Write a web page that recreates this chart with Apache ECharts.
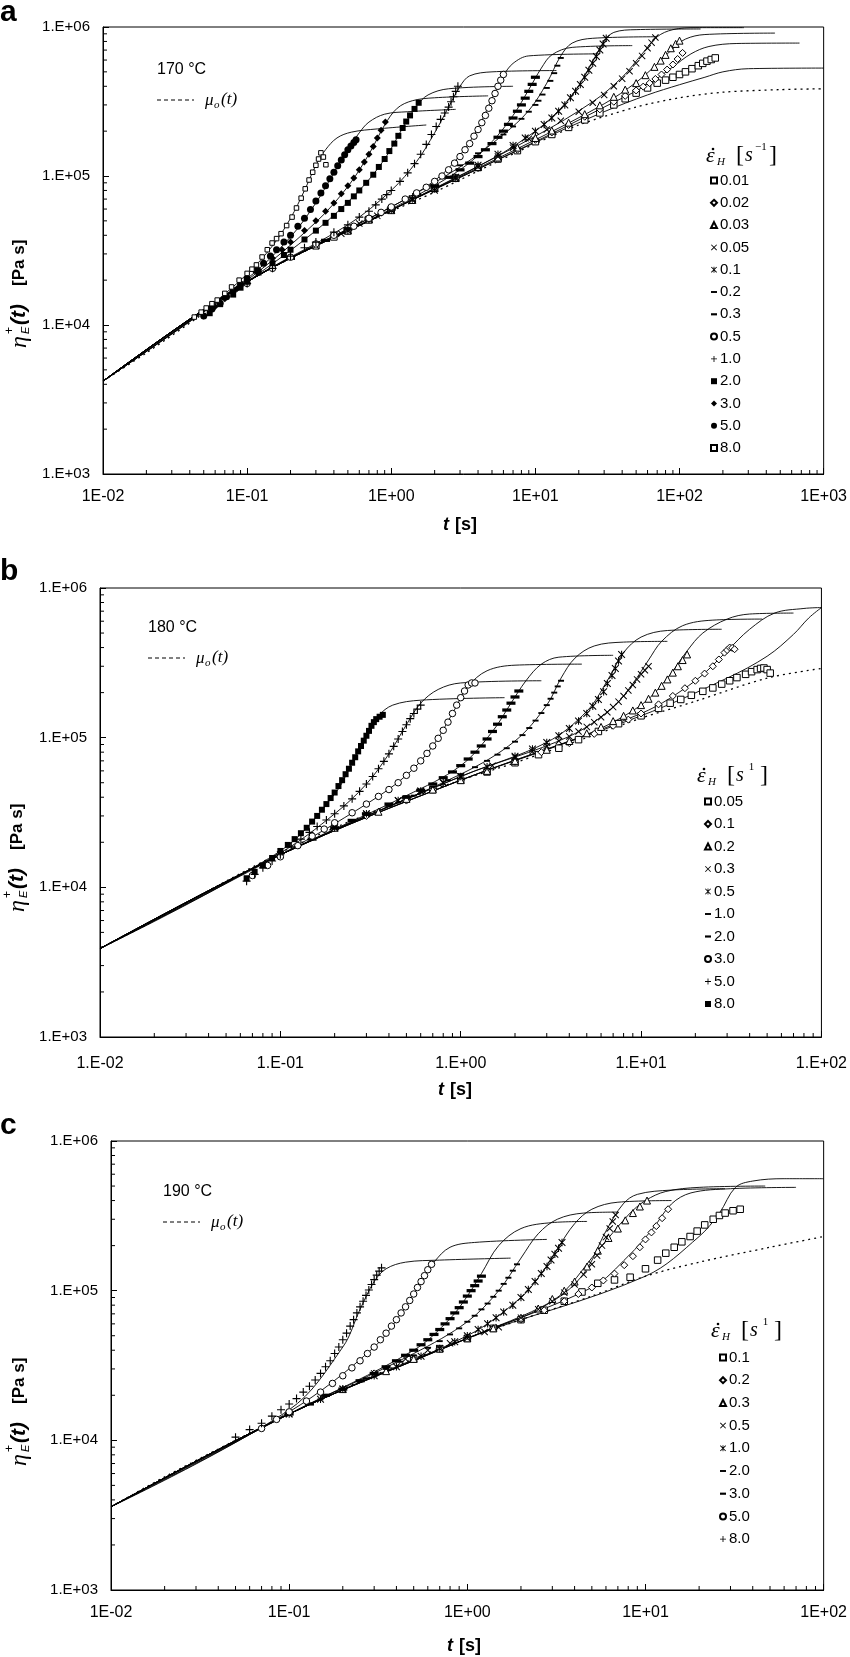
<!DOCTYPE html>
<html><head><meta charset="utf-8">
<script src="https://cdn.jsdelivr.net/npm/echarts@6/dist/echarts.min.js"></script>
<style>html,body{margin:0;padding:0;background:#fff}#c{width:850px;height:1657px}</style>
</head><body><div id="c"></div>
<script>
// ---------- tick labels ----------
const A_XTICKS = ['1E-02','1E-01','1E+00','1E+01','1E+02','1E+03'];
const B_XTICKS = ['1.E-02','1.E-01','1.E+00','1.E+01','1.E+02'];
const C_XTICKS = ['1E-02','1E-01','1E+00','1E+01','1E+02'];
const Y_TICKS = ['1.E+03','1.E+04','1.E+05','1.E+06'];

// ---------- panel a : 170 °C ----------
const A_RATES = ['0.01','0.02','0.03','0.05','0.1','0.2','0.3','0.5','1.0','2.0','3.0','5.0','8.0'];
const A_LVE = [[0.01,4200],[0.02,6500],[0.05,12000],[0.1,19500],[0.2,28000],[0.5,43000],[1,58000],[2,78000],[5,120000],[10,165000],[20,220000],[50,290000],[100,335000],[200,365000],[500,380000],[1000,385000]];
const A_EXP_0_01 = [[0.3,34000],[0.4,39000],[0.5,43000],[0.7,51000],[1,60000],[1.4,70000],[2,83000],[2.8,97000],[4,114000],[5.5,130000],[7.5,148000],[10,170000],[13,190000],[17,212000],[22,238000],[28,265000],[35,300000],[42,330000],[50,360000],[60,390000],[70,420000],[80,440000],[90,460000],[100,480000],[110,500000],[122,525000],[135,550000],[145,570000],[155,590000],[166,605000],[177,620000]];
const A_MOD_0_01 = [[0.01,4200],[0.1,19500],[1,59000],[10,168000],[30,270000],[60,350000],[100,410000],[150,460000],[200,500000],[300,525000],[1000,530000]];
const A_EXP_0_02 = [[0.5,43000],[0.7,51000],[1,59000],[1.4,69000],[2,82000],[2.8,96000],[4,113000],[5.5,130000],[7.5,150000],[10,175000],[13,196000],[17,220000],[22,250000],[28,280000],[35,315000],[42,345000],[50,375000],[56,398000],[62,420000],[68,448000],[75,480000],[82,518000],[90,560000],[97,610000],[105,670000]];
const A_MOD_0_02 = [[0.01,4200],[0.1,19500],[1,59000],[10,170000],[30,290000],[60,410000],[90,540000],[120,660000],[160,740000],[250,775000],[680,780000]];
const A_EXP_0_03 = [[0.5,43000],[0.7,51000],[1,59000],[1.4,69000],[2,83000],[2.8,97000],[4,115000],[5.5,133000],[7.5,155000],[10,180000],[13,202000],[17,228000],[22,260000],[28,298000],[35,340000],[42,380000],[50,420000],[58,475000],[67,540000],[74,595000],[80,650000],[87,720000],[94,770000],[100,810000]];
const A_MOD_0_03 = [[0.01,4200],[0.1,19500],[1,59000],[10,175000],[30,305000],[50,425000],[70,565000],[90,715000],[110,830000],[150,890000],[460,910000]];
const A_EXP_0_05 = [[0.3,34000],[0.45,41000],[0.6,48000],[0.8,54000],[1,59000],[1.4,69000],[2,80000],[2.8,96000],[4,115000],[5.5,135000],[7,155000],[9,178000],[12,205000],[15,235000],[20,270000],[25,310000],[30,350000],[35,400000],[40,450000],[45,505000],[50,570000],[55,640000],[60,720000],[64,785000],[68,850000]];
const A_MOD_0_05 = [[0.01,4200],[0.1,19500],[1,59000],[10,185000],[25,315000],[40,460000],[55,660000],[70,860000],[90,960000],[130,990000],[280,990000]];
const A_EXP_0_1 = [[0.5,43000],[0.7,51000],[1,59000],[1.4,70000],[2,82000],[2.8,98000],[4,118000],[5.5,140000],[7,160000],[8.5,180000],[10,200000],[11.5,222000],[13,245000],[14.5,272000],[16,300000],[17.5,335000],[19,370000],[20.5,412000],[22,460000],[23.5,512000],[25,570000],[26.5,635000],[28,700000],[29.5,770000],[31,840000]];
const A_MOD_0_1 = [[0.01,4200],[0.1,19500],[1,59000],[5,130000],[10,200000],[15,285000],[20,405000],[25,590000],[30,800000],[35,920000],[50,960000],[140,970000]];
const A_EXP_0_2 = [[0.3,35000],[0.5,44000],[0.7,52000],[1,61000],[1.5,78000],[2,92000],[3,118000],[4,142000],[5,165000],[6,190000],[7,215000],[8,242000],[9,270000],[10,300000],[10.5,320000],[11.2,352000],[12,390000],[12.7,435000],[13.5,490000],[14.2,550000],[15,620000]];
const A_MOD_0_2 = [[0.01,4200],[0.1,19500],[1,62000],[3,115000],[6,190000],[9,275000],[12,420000],[15,640000],[18,780000],[25,840000],[70,860000]];
const A_EXP_0_3 = [[0.2,28000],[0.35,37000],[0.5,44000],[0.7,52000],[1,60000],[1.5,75000],[2,86000],[2.5,98000],[3,110000],[3.5,122000],[4,135000],[4.5,150000],[5,165000],[5.5,182000],[6,200000],[6.5,222000],[7,245000],[7.5,272000],[8,300000],[8.5,333000],[9,370000],[9.5,412000],[10,460000]];
const A_MOD_0_3 = [[0.01,4200],[0.1,19500],[1,60000],[3,110000],[5,170000],[7,255000],[9,380000],[11,530000],[13,650000],[18,730000],[47,750000]];
const A_EXP_0_5 = [[0.1,19000],[0.15,24000],[0.2,28500],[0.3,35000],[0.4,40000],[0.55,46000],[0.7,52000],[0.85,57000],[1,62000],[1.25,70000],[1.5,77000],[1.75,84000],[2,92000],[2.25,100000],[2.5,110000],[2.75,122000],[3,135000],[3.25,150000],[3.5,165000],[3.75,185000],[4,205000],[4.25,228000],[4.5,255000],[4.75,285000],[5,320000],[5.25,358000],[5.5,400000],[5.75,440000],[6,480000]];
const A_MOD_0_5 = [[0.01,4200],[0.1,19500],[1,62000],[2,93000],[3,138000],[4,210000],[5,330000],[6,470000],[7,570000],[9,640000],[28,660000]];
const A_EXP_1 = [[0.1,19000],[0.15,24000],[0.2,29000],[0.25,33000],[0.3,36000],[0.4,42000],[0.5,47000],[0.6,53000],[0.7,58000],[0.78,64000],[0.86,70000],[0.93,75000],[1.0,80000],[1.15,92000],[1.3,105000],[1.45,121000],[1.6,140000],[1.75,163000],[1.9,190000],[2.05,215000],[2.2,240000],[2.35,265000],[2.5,290000],[2.6,315000],[2.7,340000],[2.8,370000],[2.9,400000]];
const A_MOD_1 = [[0.01,4200],[0.1,19500],[0.5,47000],[1.0,80000],[1.5,125000],[2.0,195000],[2.5,290000],[3.0,400000],[3.5,470000],[5,500000],[14,510000]];
const A_EXP_2 = [[0.055,12000],[0.065,13800],[0.08,16000],[0.09,17800],[0.1,19500],[0.12,22500],[0.15,26000],[0.18,29500],[0.2,32000],[0.25,37500],[0.3,43000],[0.35,48500],[0.4,54000],[0.45,60000],[0.5,66000],[0.55,73000],[0.6,80000],[0.67,90000],[0.75,102000],[0.82,115000],[0.9,130000],[0.97,147000],[1.05,165000],[1.12,186000],[1.2,210000],[1.27,232000],[1.35,255000],[1.45,282000],[1.55,310000]];
const A_MOD_2 = [[0.01,4200],[0.1,19500],[0.3,43000],[0.6,80000],[0.9,130000],[1.2,210000],[1.5,295000],[1.8,350000],[2.5,385000],[7,400000]];
const A_EXP_3 = [[0.05,11500],[0.06,13300],[0.07,15000],[0.085,17500],[0.1,20000],[0.12,23500],[0.15,28000],[0.175,32000],[0.2,36000],[0.25,43000],[0.3,50000],[0.35,58000],[0.4,66000],[0.45,76000],[0.5,86000],[0.55,97000],[0.6,110000],[0.65,124000],[0.7,140000],[0.75,158000],[0.8,180000],[0.85,203000],[0.91,230000]];
const A_MOD_3 = [[0.01,4200],[0.1,20000],[0.3,49000],[0.5,85000],[0.7,140000],[0.9,220000],[1.1,285000],[1.4,320000],[2,335000],[4.7,345000]];
const A_EXP_5 = [[0.05,11500],[0.057,12800],[0.065,14000],[0.072,15500],[0.08,17000],[0.09,18800],[0.1,20500],[0.115,23200],[0.13,26000],[0.145,29000],[0.16,32000],[0.18,36000],[0.2,40000],[0.225,46000],[0.25,52000],[0.275,59500],[0.3,68000],[0.325,77000],[0.35,86000],[0.375,96000],[0.4,106000],[0.425,117000],[0.45,128000],[0.475,139000],[0.5,150000],[0.525,159000],[0.55,168000],[0.57,175000]];
const A_MOD_5 = [[0.01,4200],[0.1,20500],[0.2,39000],[0.3,66000],[0.4,105000],[0.5,150000],[0.6,195000],[0.7,230000],[0.9,260000],[1.3,270000],[2.8,280000]];
const A_EXP_8 = [[0.043,11300],[0.048,12200],[0.052,13000],[0.057,13900],[0.062,14700],[0.07,16300],[0.078,18000],[0.088,20000],[0.1,22200],[0.108,23700],[0.116,25300],[0.127,28600],[0.138,32000],[0.149,35500],[0.16,38000],[0.172,41000],[0.188,46500],[0.205,53000],[0.22,61000],[0.237,71000],[0.253,82000],[0.269,94000],[0.285,106000],[0.3,118000],[0.313,130000],[0.325,143000],[0.338,134000],[0.352,119000]];
const A_MOD_8 = [[0.01,4200],[0.05,12500],[0.1,22000],[0.15,34000],[0.2,52000],[0.25,80000],[0.3,118000],[0.35,150000],[0.42,180000],[0.53,197000],[0.8,207000],[1.75,220000]];

// ---------- panel b : 180 °C ----------
const B_RATES = ['0.05','0.1','0.2','0.3','0.5','1.0','2.0','3.0','5.0','8.0'];
const B_LVE = [[0.01,3900],[0.02,6000],[0.05,11000],[0.1,17000],[0.2,25000],[0.5,39000],[1,52000],[2,68000],[5,100000],[10,135000],[20,175000],[50,250000],[100,290000]];
const B_EXP_0_05 = [[0.5,39000],[0.7,45000],[1,52000],[1.4,59000],[2,68000],[2.7,77000],[3.5,85000],[4.5,97000],[5.8,110000],[7.5,124000],[10,140000],[12.5,157000],[14.5,170000],[16.6,180000],[19,192000],[22,204000],[25,215000],[28,228000],[31,240000],[34,252000],[38,265000],[41,276000],[44,285000],[46,290000],[48,292000],[50,285000],[52,270000]];
const B_MOD_0_05 = [[0.01,3900],[0.1,16500],[1,52000],[10,140000],[30,250000],[50,350000],[70,490000],[85,630000],[100,740000]];
const B_EXP_0_1 = [[0.3,30000],[0.5,38000],[0.7,45000],[1,52000],[1.4,60000],[2,69000],[2.8,80000],[4,92000],[5.5,106000],[7,120000],[8.5,132000],[10,145000],[12.5,167000],[15,190000],[17.5,214000],[20,240000],[22.5,268000],[25,300000],[27,333000],[29,370000],[30,385000],[31,400000],[32,398000],[33,390000]];
const B_MOD_0_1 = [[0.01,3900],[0.1,16500],[1,52000],[10,145000],[20,240000],[30,380000],[40,530000],[55,680000],[80,730000],[100,740000]];
const B_EXP_0_2 = [[0.2,25000],[0.35,32000],[0.5,39000],[0.7,45000],[1,52000],[1.4,60000],[2,70000],[3,83000],[4,95000],[5,107000],[6,118000],[7,129000],[8,140000],[9,152000],[10,165000],[11,182000],[12,200000],[13,222000],[14,245000],[15,272000],[16,300000],[17,330000],[18,360000]];
const B_MOD_0_2 = [[0.01,3900],[0.1,16500],[1,52000],[5,105000],[10,165000],[14,250000],[18,380000],[22,500000],[30,620000],[40,670000],[70,680000]];
const B_EXP_0_3 = [[0.1,16500],[0.2,25000],[0.3,31000],[0.45,38000],[0.6,44000],[0.8,50000],[1,55000],[1.5,65000],[2,74000],[2.5,81000],[3,88000],[3.5,95000],[4,102000],[4.5,110000],[5,118000],[5.5,127000],[6,137000],[6.5,148000],[7,160000],[7.5,174000],[8,190000],[8.5,207000],[9,225000],[9.5,245000],[10,265000],[10.5,282000],[11,300000]];
const B_MOD_0_3 = [[0.01,3900],[0.1,16500],[1,55000],[4,102000],[7,160000],[9,230000],[11,330000],[13,440000],[17,560000],[25,610000],[47,620000]];
const B_EXP_0_5 = [[0.1,16500],[0.2,25000],[0.3,31000],[0.45,38000],[0.6,44000],[0.8,50000],[1,55000],[1.4,64000],[2,75000],[2.5,84000],[3,93000],[3.5,103000],[4,115000],[4.5,129000],[5,145000],[5.4,162000],[5.8,180000],[6.2,203000],[6.5,230000],[6.9,260000],[7.2,290000],[7.5,325000],[7.8,360000]];
const B_MOD_0_5 = [[0.01,3900],[0.1,16500],[1,55000],[3,93000],[5,150000],[6.5,240000],[8,370000],[10,470000],[14,520000],[28,530000]];
const B_EXP_1 = [[0.2,25000],[0.3,30500],[0.4,35000],[0.55,41000],[0.7,47000],[0.85,52000],[1,57000],[1.2,63500],[1.4,70000],[1.6,77000],[1.8,85000],[2.0,94000],[2.2,104000],[2.4,116000],[2.6,130000],[2.8,146000],[3.0,165000],[3.15,182000],[3.3,200000],[3.45,220000],[3.6,240000]];
const B_MOD_1 = [[0.01,3900],[0.1,16500],[1,57000],[2,95000],[3,165000],[3.6,250000],[4.3,340000],[5.5,410000],[8,435000],[14,440000]];
const B_EXP_2 = [[0.15,21000],[0.2,25000],[0.25,28000],[0.3,31000],[0.4,36000],[0.5,40000],[0.6,44500],[0.7,49000],[0.8,54000],[0.9,59000],[1.0,65000],[1.1,72000],[1.2,80000],[1.3,88000],[1.4,98000],[1.5,110000],[1.6,123000],[1.7,138000],[1.8,153000],[1.9,170000],[2.0,187000],[2.1,205000]];
const B_MOD_2 = [[0.01,3900],[0.1,16500],[0.5,41000],[1,65000],[1.5,110000],[1.9,170000],[2.3,240000],[2.8,310000],[3.5,345000],[7,355000]];
const B_EXP_3 = [[0.07,12000],[0.085,14000],[0.1,16000],[0.125,19000],[0.15,22000],[0.175,24500],[0.2,27000],[0.25,31500],[0.3,36000],[0.35,40500],[0.4,45000],[0.45,50000],[0.5,56000],[0.55,62500],[0.6,70000],[0.65,78500],[0.7,88000],[0.75,99000],[0.8,112000],[0.85,127000],[0.9,145000],[0.95,165000],[1.0,185000],[1.05,205000],[1.1,225000],[1.15,232000],[1.2,232000]];
const B_MOD_3 = [[0.01,3900],[0.1,16500],[0.3,36000],[0.5,56000],[0.7,88000],[0.9,145000],[1.1,220000],[1.4,280000],[2,305000],[4.7,310000]];
const B_EXP_5 = [[0.065,11000],[0.072,12200],[0.08,13500],[0.09,15000],[0.1,16500],[0.115,18800],[0.13,21000],[0.145,23300],[0.16,25500],[0.18,28200],[0.2,31000],[0.225,35000],[0.25,39000],[0.275,43800],[0.3,49000],[0.325,55000],[0.35,62000],[0.375,69500],[0.4,78000],[0.425,87500],[0.45,98000],[0.475,110000],[0.5,122000],[0.525,134000],[0.55,145000],[0.575,155000],[0.6,165000]];
const B_MOD_5 = [[0.01,3900],[0.1,17000],[0.2,31000],[0.3,49000],[0.4,78000],[0.5,122000],[0.6,170000],[0.75,210000],[1,232000],[2.8,240000]];
const B_EXP_8 = [[0.065,11500],[0.072,12700],[0.08,14000],[0.09,15700],[0.1,17500],[0.11,19200],[0.12,21000],[0.13,23000],[0.14,25000],[0.15,27500],[0.16,30000],[0.17,33000],[0.18,36000],[0.19,39500],[0.2,43000],[0.21,47500],[0.22,52000],[0.23,57000],[0.24,62000],[0.25,68000],[0.26,74000],[0.27,81000],[0.28,88000],[0.29,95500],[0.3,103000],[0.31,111000],[0.32,120000],[0.33,127000],[0.34,133000],[0.355,138000],[0.37,142000]];
const B_MOD_8 = [[0.01,3900],[0.1,17500],[0.2,42000],[0.25,68000],[0.3,105000],[0.35,140000],[0.42,165000],[0.6,178000],[1.75,185000]];

// ---------- panel c : 190 °C ----------
const C_RATES = ['0.1','0.2','0.3','0.5','1.0','2.0','3.0','5.0','8.0'];
const C_LVE = [[0.01,3600],[0.02,5700],[0.05,10000],[0.1,15000],[0.2,22000],[0.5,35000],[1,48000],[2,64000],[5,92000],[10,125000],[20,155000],[50,195000],[100,230000]];
const C_EXP_0_1 = [[0.5,35000],[0.7,41000],[1,48000],[1.4,56000],[2,64000],[2.7,74000],[3.5,85000],[4.4,98000],[5.4,112000],[6.7,118000],[8.2,123000],[10,140000],[11.7,160000],[13,178000],[14.5,195000],[16,212000],[17.8,230000],[19.5,250000],[21.5,275000],[24,300000],[26,318000],[28,330000],[31,342000],[34,350000]];
const C_MOD_0_1 = [[0.01,3600],[0.1,15000],[1,48000],[10,125000],[20,230000],[26,330000],[32,490000],[40,540000],[60,560000],[100,560000]];
const C_EXP_0_2 = [[0.3,28000],[0.5,35000],[0.7,41000],[1,48000],[1.4,56000],[2,64000],[2.7,74000],[3.5,85000],[4.2,95000],[5,105000],[5.8,117000],[6.7,130000],[7.6,148000],[8.5,170000],[9.3,195000],[10,220000],[10.8,245000],[11.5,270000],[12.4,305000],[13.4,350000]];
const C_MOD_0_2 = [[0.01,3600],[0.1,15000],[1,48000],[5,105000],[8,170000],[11,260000],[14,380000],[18,450000],[30,480000],[70,490000]];
const C_EXP_0_3 = [[0.2,22000],[0.35,29000],[0.5,35000],[0.7,41000],[1,48000],[1.4,56000],[2,66000],[2.5,76000],[3,88000],[3.5,100000],[4,115000],[4.7,145000],[5.4,185000],[6.2,225000],[7,260000],[7.7,295000],[8.5,330000],[9.3,365000],[10.2,400000]];
const C_MOD_0_3 = [[0.01,3600],[0.1,15000],[1,48000],[3,85000],[5.4,185000],[8,320000],[10,400000],[13,460000],[20,490000],[47,500000]];
const C_EXP_0_5 = [[0.1,15000],[0.2,22000],[0.3,28000],[0.45,35000],[0.6,40000],[0.8,44500],[1,48000],[1.25,53000],[1.5,57000],[2,66000],[2.5,75000],[3,85000],[3.5,97000],[4,110000],[4.5,128000],[5,150000],[5.35,172000],[5.7,200000],[6,228000],[6.3,260000],[6.55,290000],[6.8,320000]];
const C_MOD_0_5 = [[0.01,3600],[0.1,15000],[1,48000],[3,85000],[4.5,130000],[6,250000],[7.5,380000],[9,440000],[14,470000],[28,480000]];
const C_EXP_1 = [[0.1,15000],[0.15,18800],[0.2,22000],[0.3,27000],[0.4,31000],[0.55,36500],[0.7,41000],[0.85,45500],[1,50000],[1.15,55000],[1.3,60000],[1.45,66000],[1.6,72000],[1.8,80000],[2,90000],[2.2,102000],[2.4,115000],[2.6,130000],[2.8,145000],[2.95,160000],[3.1,175000],[3.25,192000],[3.4,210000]];
const C_MOD_1 = [[0.01,3600],[0.1,15000],[1,50000],[2,90000],[2.6,130000],[3.2,190000],[4,280000],[5,350000],[7,390000],[14,400000]];
const C_EXP_2 = [[0.1,15000],[0.15,18800],[0.2,22000],[0.27,26000],[0.35,30000],[0.42,33500],[0.5,37000],[0.6,41500],[0.7,46000],[0.8,51000],[0.9,56000],[1.0,62000],[1.1,68000],[1.2,75000],[1.3,82000],[1.4,91000],[1.5,100000],[1.6,111000],[1.7,122000],[1.8,136000],[1.9,150000]];
const C_MOD_2 = [[0.01,3600],[0.1,15000],[0.5,38000],[1,62000],[1.5,100000],[2,165000],[2.5,240000],[3.2,300000],[4.5,330000],[7,335000]];
const C_EXP_3 = [[0.1,15000],[0.13,17500],[0.16,20000],[0.2,22000],[0.25,25000],[0.3,28000],[0.35,31000],[0.4,34000],[0.45,37000],[0.5,40000],[0.55,43500],[0.6,47000],[0.65,51000],[0.7,55000],[0.75,60000],[0.8,65000],[0.85,71000],[0.9,77000],[0.95,84000],[1.0,92000],[1.05,100000],[1.1,108000],[1.15,116000],[1.2,125000]];
const C_MOD_3 = [[0.01,3600],[0.1,15000],[0.5,40000],[0.8,65000],[1.0,92000],[1.2,130000],[1.5,200000],[2,260000],[3,285000],[4.7,290000]];
const C_EXP_5 = [[0.07,12000],[0.085,13800],[0.1,15500],[0.125,18300],[0.15,21000],[0.175,24000],[0.2,27000],[0.225,30500],[0.25,34000],[0.275,38000],[0.3,42000],[0.325,47000],[0.35,52000],[0.375,58000],[0.4,64000],[0.425,71000],[0.45,78000],[0.475,86000],[0.5,95000],[0.525,105000],[0.55,115000],[0.575,126000],[0.6,138000],[0.63,150000]];
const C_MOD_5 = [[0.01,3600],[0.1,15500],[0.3,42000],[0.45,78000],[0.55,115000],[0.65,155000],[0.8,195000],[1.1,210000],[2.8,220000]];
const C_EXP_8 = [[0.05,10500],[0.06,11800],[0.07,13000],[0.08,14500],[0.09,16000],[0.1,17500],[0.11,19000],[0.12,21000],[0.13,23000],[0.14,25300],[0.15,28000],[0.16,31000],[0.17,34000],[0.18,38000],[0.19,42000],[0.2,47000],[0.21,52000],[0.22,58000],[0.23,64000],[0.24,71000],[0.25,78000],[0.26,85000],[0.27,93000],[0.28,101000],[0.29,110000],[0.3,118500],[0.31,127000],[0.32,135000],[0.33,142000]];
const C_MOD_8 = [[0.01,3600],[0.1,16000],[0.2,42000],[0.25,75000],[0.3,115000],[0.35,140000],[0.45,155000],[0.7,160000],[1.75,165000]];

// ---------- marker styles ----------
const P_X = 'path://M0,1L1,0L10,9L9,10Z M9,0L10,1L1,10L0,9Z';
const P_AST = 'path://M0,1L1,0L10,9L9,10Z M9,0L10,1L1,10L0,9Z M4.3,0H5.7V10H4.3Z';
const P_PLUS = 'path://M4.3,0H5.7V10H4.3Z M0,4.3H10V5.7H0Z';
const P_DASH_S = 'path://M0,0H10V3.2H0Z';
const P_DASH_L = 'path://M0,0H10V3.6H0Z';
const MK = {
  sqE:  {symbol:'rect', size:6.5, fill:'#fff'},
  diaE: {symbol:'diamond', size:7, fill:'#fff'},
  triE: {symbol:'triangle', size:7, fill:'#fff'},
  x:    {symbol:P_X, size:7, fill:'#000'},
  ast:  {symbol:P_AST, size:7.5, fill:'#000'},
  dS:   {symbol:P_DASH_S, size:6, fill:'#000'},
  dL:   {symbol:P_DASH_L, size:9, fill:'#000'},
  cirE: {symbol:'circle', size:6.5, fill:'#fff'},
  plus: {symbol:P_PLUS, size:8, fill:'#000'},
  sqF:  {symbol:'rect', size:6, fill:'#000'},
  diaF: {symbol:'diamond', size:7, fill:'#000'},
  cirF: {symbol:'circle', size:7, fill:'#000'},
  sqS:  {symbol:'rect', size:4.5, fill:'#fff'}
};

const A_SETS = [
  [A_EXP_0_01, A_MOD_0_01, 'sqE'], [A_EXP_0_02, A_MOD_0_02, 'diaE'], [A_EXP_0_03, A_MOD_0_03, 'triE'],
  [A_EXP_0_05, A_MOD_0_05, 'x'], [A_EXP_0_1, A_MOD_0_1, 'ast'], [A_EXP_0_2, A_MOD_0_2, 'dS'],
  [A_EXP_0_3, A_MOD_0_3, 'dL'], [A_EXP_0_5, A_MOD_0_5, 'cirE'], [A_EXP_1, A_MOD_1, 'plus'],
  [A_EXP_2, A_MOD_2, 'sqF'], [A_EXP_3, A_MOD_3, 'diaF'], [A_EXP_5, A_MOD_5, 'cirF'], [A_EXP_8, A_MOD_8, 'sqS']
];
const B_SETS = [
  [B_EXP_0_05, B_MOD_0_05, 'sqE'], [B_EXP_0_1, B_MOD_0_1, 'diaE'], [B_EXP_0_2, B_MOD_0_2, 'triE'],
  [B_EXP_0_3, B_MOD_0_3, 'x'], [B_EXP_0_5, B_MOD_0_5, 'ast'], [B_EXP_1, B_MOD_1, 'dS'],
  [B_EXP_2, B_MOD_2, 'dL'], [B_EXP_3, B_MOD_3, 'cirE'], [B_EXP_5, B_MOD_5, 'plus'], [B_EXP_8, B_MOD_8, 'sqF']
];
const C_SETS = [
  [C_EXP_0_1, C_MOD_0_1, 'sqE'], [C_EXP_0_2, C_MOD_0_2, 'diaE'], [C_EXP_0_3, C_MOD_0_3, 'triE'],
  [C_EXP_0_5, C_MOD_0_5, 'x'], [C_EXP_1, C_MOD_1, 'ast'], [C_EXP_2, C_MOD_2, 'dS'],
  [C_EXP_3, C_MOD_3, 'dL'], [C_EXP_5, C_MOD_5, 'cirE'], [C_EXP_8, C_MOD_8, 'plus']
];

const PANELS = [
  {key:'a', grid:{left:103, top:27, width:724, height:447}, xmin:0.01, xmax:1000, xlab:A_XTICKS, xsplit:5, rates:A_RATES, sets:A_SETS, lve:A_LVE},
  {key:'b', grid:{left:100, top:588, width:724, height:449}, xmin:0.01, xmax:100, xlab:B_XTICKS, xsplit:4, rates:B_RATES, sets:B_SETS, lve:B_LVE},
  {key:'c', grid:{left:111, top:1141, width:716, height:449}, xmin:0.01, xmax:100, xlab:C_XTICKS, xsplit:4, rates:C_RATES, sets:C_SETS, lve:C_LVE}
];
const YMIN = 1000, YMAX = 1000000;
const SANS = 'Arial, "Liberation Sans", sans-serif';
const SERIF = '"Liberation Serif", "DejaVu Serif", serif';

const grids = [], xAxes = [], yAxes = [], series = [], legends = [];
PANELS.forEach((p, gi) => {
  grids.push(Object.assign({show:true, borderColor:'#000', borderWidth:1, backgroundColor:'transparent'}, p.grid));
  xAxes.push({
    type:'log', logBase:10, gridIndex:gi, min:p.xmin, max:p.xmax, splitNumber:p.xsplit,
    axisLine:{lineStyle:{color:'#000', width:1}},
    axisTick:{inside:true, length:6, lineStyle:{color:'#000'}},
    splitLine:{show:false},
    axisLabel:{color:'#000', fontSize:16, fontFamily:SANS, margin:p.key==='b'?19:15,
      formatter:v => p.xlab[Math.round(Math.log10(v)) + 2]}
  });
  yAxes.push({
    type:'log', logBase:10, gridIndex:gi, min:YMIN, max:YMAX, splitNumber:3,
    axisLine:{lineStyle:{color:'#000', width:1}},
    axisTick:{inside:true, length:6, lineStyle:{color:'#000'}},
    splitLine:{show:false},
    axisLabel:{color:'#000', fontSize:15, fontFamily:SANS, margin:13,
      formatter:v => Y_TICKS[Math.round(Math.log10(v)) - 3]}
  });
  // minor ticks (2..9 per decade) drawn through the axes' own scales
  const xm = [], ym = [];
  for (let e = Math.round(Math.log10(p.xmin)); e < Math.round(Math.log10(p.xmax)); e++)
    for (let k = 2; k <= 9; k++) xm.push([k * Math.pow(10, e), YMIN]);
  for (let e = 3; e < 6; e++) for (let k = 2; k <= 9; k++) ym.push([p.xmin, k * Math.pow(10, e)]);
  series.push({type:'custom', xAxisIndex:gi, yAxisIndex:gi, silent:true, clip:false, z:1, data:xm,
    renderItem:(params, api) => { const q = api.coord([api.value(0), api.value(1)]);
      return {type:'line', shape:{x1:q[0], y1:q[1], x2:q[0], y2:q[1]-4}, style:{stroke:'#000', lineWidth:1}}; }});
  series.push({type:'custom', xAxisIndex:gi, yAxisIndex:gi, silent:true, clip:false, z:1, data:ym,
    renderItem:(params, api) => { const q = api.coord([api.value(0), api.value(1)]);
      return {type:'line', shape:{x1:q[0], y1:q[1], x2:q[0]+4, y2:q[1]}, style:{stroke:'#000', lineWidth:1}}; }});
  // LVE envelope mu0(t)
  series.push({type:'line', xAxisIndex:gi, yAxisIndex:gi, data:p.lve, symbol:'none', smooth:0.3, silent:true, z:2,
    lineStyle:{color:'#000', width:1.3, type:[2,4]}});
  const names = [];
  p.sets.forEach((s, i) => {
    const m = MK[s[2]];
    const name = p.key + '|' + p.rates[i];
    names.push(name);
    series.push({type:'line', xAxisIndex:gi, yAxisIndex:gi, data:s[1], symbol:'none', smooth:0.35, silent:true, z:2,
      lineStyle:{color:'#000', width:0.9}});
    series.push({type:'scatter', name:name, xAxisIndex:gi, yAxisIndex:gi, data:s[0], symbol:m.symbol, symbolSize:m.size,
      symbolKeepAspect:true, silent:true, z:3,
      itemStyle:{color:m.fill, borderColor:'#000', borderWidth:m.fill==='#fff'?1:0, opacity:1}});
  });
  legends.push({names});
});

const LEG_POS = [{left:710, top:173, gap:7.3}, {left:704, top:794, gap:7.5}, {left:719, top:1350, gap:7.7}];
const legendOpts = legends.map((l, i) => ({
  orient:'vertical', left:LEG_POS[i].left, top:LEG_POS[i].top, itemGap:LEG_POS[i].gap,
  itemWidth:6, itemHeight:6, selectedMode:false, data:l.names, padding:0,
  formatter:n => n.split('|')[1],
  textStyle:{fontSize:15, fontFamily:SANS, color:'#000', padding:[0,0,0,-2]}
}));

// ---------- text / annotation graphics ----------
function txt(x, y, s, o) {
  return Object.assign({type:'text', x:x, y:y, silent:true,
    style:Object.assign({text:s, fill:'#000', font:'15px ' + SANS, verticalAlign:'middle', align:'left'}, o || {})});
}
const graphics = [];
// panel letters
graphics.push(txt(0, 13, 'a', {font:'bold 30px ' + SANS}));
graphics.push(txt(0, 572, 'b', {font:'bold 30px ' + SANS}));
graphics.push(txt(0, 1126, 'c', {font:'bold 30px ' + SANS}));
// temperature + mu0 key
const ANN = [{x:157, y:70, t:'170 °C'}, {x:148, y:628, t:'180 °C'}, {x:163, y:1192, t:'190 °C'}];
ANN.forEach(a => {
  graphics.push(txt(a.x, a.y, a.t, {font:'16px ' + SANS}));
  graphics.push({type:'line', silent:true, shape:{x1:a.x, y1:a.y+30, x2:a.x+37, y2:a.y+30},
    style:{stroke:'#000', lineWidth:1, lineDash:[4,3]}});
  graphics.push(txt(a.x+48, a.y+31, 'μ', {font:'italic 17px ' + SERIF}));
  graphics.push(txt(a.x+57, a.y+35, 'o', {font:'italic 11px ' + SERIF}));
  graphics.push(txt(a.x+64, a.y+30, '(t)', {font:'italic 17px ' + SERIF}));
});
// legend titles
const LT = [{x:706, y:155, sup:'−1'}, {x:697, y:775, sup:' 1'}, {x:711, y:1330, sup:' 1'}];
LT.forEach(l => {
  graphics.push(txt(l.x, l.y+1, 'ε', {font:'italic 22px ' + SERIF}));
  graphics.push({type:'circle', silent:true, shape:{cx:l.x+7, cy:l.y-6, r:1.3}, style:{fill:'#000'}});
  graphics.push(txt(l.x+11, l.y+7, 'H', {font:'italic 11px ' + SERIF}));
  graphics.push(txt(l.x+30, l.y+1, '[', {font:'24px ' + SERIF}));
  graphics.push(txt(l.x+39, l.y+1, 's', {font:'italic 20px ' + SERIF}));
  graphics.push(txt(l.x+49, l.y-8, l.sup, {font:'11px ' + SERIF}));
  graphics.push(txt(l.x+63, l.y+1, ']', {font:'24px ' + SERIF}));
});
// y axis titles (rotated)
const YT = [{x:28, y:348}, {x:26, y:912}, {x:28, y:1466}];
YT.forEach(t => {
  graphics.push({type:'group', x:t.x, y:t.y, rotation:Math.PI/2, silent:true, children:[
    {type:'text', x:0, y:-8, style:{text:'η', font:'italic 24px ' + SERIF, fill:'#000', verticalAlign:'middle'}},
    {type:'text', x:14, y:-18, style:{text:'+', font:'12px ' + SANS, fill:'#000', verticalAlign:'middle'}},
    {type:'text', x:14, y:-2, style:{text:'E', font:'italic 11px ' + SANS, fill:'#000', verticalAlign:'middle'}},
    {type:'text', x:23, y:-9, style:{text:'(t)', font:'bold italic 21px ' + SANS, fill:'#000', verticalAlign:'middle'}},
    {type:'text', x:62, y:-9, style:{text:'[Pa s]', font:'bold 17px ' + SANS, fill:'#000', verticalAlign:'middle'}}
  ]});
});
// x axis titles
const XT = [{x:443, y:525}, {x:438, y:1090}, {x:447, y:1646}];
XT.forEach(t => {
  graphics.push(txt(t.x, t.y, 't', {font:'bold italic 18px ' + SANS}));
  graphics.push(txt(t.x+12, t.y, '[s]', {font:'bold 18px ' + SANS}));
});

const chart = echarts.init(document.getElementById('c'), null, {renderer:'canvas'});
chart.setOption({
  animation:false, backgroundColor:'#fff',
  grid:grids, xAxis:xAxes, yAxis:yAxes, series:series, legend:legendOpts, graphic:graphics
});
</script></body></html>
